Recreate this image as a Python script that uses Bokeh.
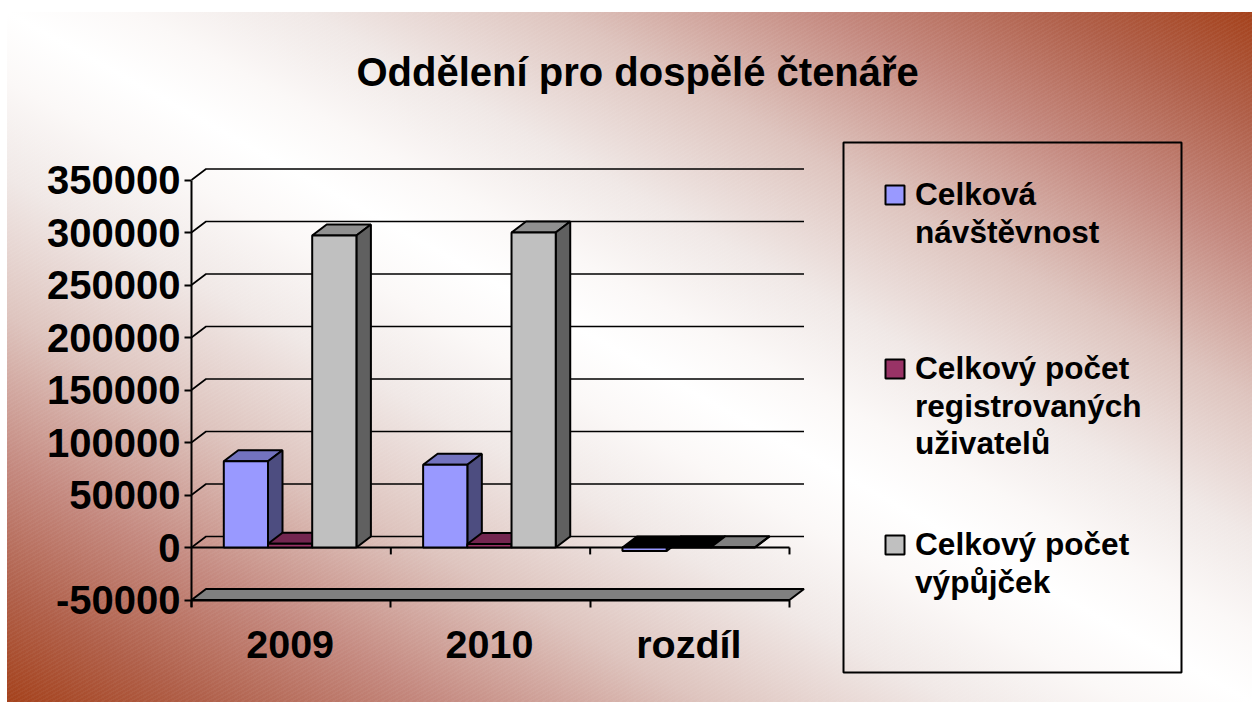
from bokeh.plotting import figure
from bokeh.core.properties import value
from bokeh.models import LinearAxis, FixedTicker, Title, PrintfTickFormatter
from bokeh.embed import file_html
from bokeh.resources import INLINE

categories = ["2009", "2010", "rozdíl"]
title_text = "Oddělení pro dospělé čtenáře"
y_ticks = [-50000, 0, 50000, 100000, 150000, 200000, 250000, 300000, 350000]
navstevnost = [82200, 78800, -3400]
uzivatele = [3500, 3400, 200]
vypujcky = [297100, 300000, 300]
legend_lines = [["Celková", "návštěvnost"],
                ["Celkový počet", "registrovaných", "uživatelů"],
                ["Celkový počet", "výpůjček"]]

FRONT = ["#9999FF", "#993366", "#C0C0C0"]
SIDE = ["#4D4D80", "#4D1A33", "#606060"]
TOP = [["#7373BF", "#7373BF", "#000000"],
       ["#732650", "#732650", "#000000"],
       ["#909090", "#909090", "#808080"]]
series = [navstevnost, uzivatele, vypujcky]

# page-pixel layout of the plot
PX_X0, PX_XU = 191, 199.33     # x pixel of data 0, pixels per category
PX_Y0, PX_YU = 547, 0.00105    # y pixel of value 0, pixels per unit
W, H, FRAME_TOP = 1252, 702, 110


def dx(px):
    return (px - PX_X0) / PX_XU


def dy(py):
    return (PX_Y0 - py) / PX_YU


DX = 14.5 / PX_XU              # depth of the 3-D box, x units
DY = 11 / PX_YU                # depth of the 3-D box, y units
BW = 44.2 / PX_XU
GAP = 32.3 / PX_XU
LW = 2

page_bg = ("repeating-linear-gradient(150deg, rgba(255,255,255,.04) 0 1.5px, rgba(255,255,255,0) 1.5px 3.5px), "
           "linear-gradient(to top right, #A5421C 0%, #B0604A 8%, #C4887E 17%, #DEC4BE 28%, #F0E8E6 38%, "
           "#FBF8F7 45%, #FFFFFF 50%, #FBF8F7 55%, #F0E8E6 62%, #DEC4BE 72%, #C4887E 83%, #B0604A 92%, #A5421C 100%)")

p = figure(width=W, height=H, x_range=(dx(0), dx(W)), y_range=(dy(H), dy(FRAME_TOP)),
           output_backend="svg", toolbar_location=None, x_axis_location=None, y_axis_location=None,
           min_border_left=0, min_border_right=0, min_border_top=FRAME_TOP, min_border_bottom=0,
           styles={"background-image": page_bg, "background-repeat": "no-repeat",
                   "background-size": "1245px 690px", "background-position": "7px 12px"})
p.border_fill_alpha = 0
p.background_fill_alpha = 0
p.outline_line_color = None
p.grid.visible = False

t = Title(text=title_text, align="left", offset=356, standoff=34,
          text_font="Liberation Sans", text_font_size="40px", text_font_style="bold", text_color="black")
p.add_layout(t, "above")

# back-wall gridlines with their diagonal returns
gx, gy = [], []
for v in y_ticks[1:]:
    gx.append([0, DX, 3 + DX])
    gy.append([v, v + DY, v + DY])
p.multi_line(gx, gy, line_color="black", line_width=LW - 0.4)

# floor
p.patch([0, 3, 3 + DX, DX], [y_ticks[0], y_ticks[0], y_ticks[0] + DY, y_ticks[0] + DY],
        fill_color="#808080", line_color="black", line_width=LW)

# zero axis line
p.multi_line([[0, 3], [1, 1], [2, 2], [3, 3]],
             [[0, 0], [0, -6600], [0, -6600], [0, -6600]], line_color="black", line_width=LW)

for s, vals in enumerate(series):
    left = [c + GAP + s * BW for c in range(3)]
    right = [l + BW for l in left]
    top = [max(v, 0) for v in vals]
    bot = [min(v, 0) for v in vals]
    p.patches([[l, r, r + DX, l + DX] for l, r in zip(left, right)],
              [[y, y, y + DY, y + DY] for y in top],
              fill_color=TOP[s], line_color="black", line_width=LW)
    p.patches([[r, r + DX, r + DX, r] for r in right],
              [[b, b + DY, y + DY, y] for b, y in zip(bot, top)],
              fill_color=SIDE[s], line_color="black", line_width=LW)
    p.quad(left=left, right=right, bottom=bot, top=top,
           fill_color=FRONT[s], line_color="black", line_width=LW)

# axes, pinned at their data positions inside the full-page frame
ya = LinearAxis(ticker=FixedTicker(ticks=y_ticks), formatter=PrintfTickFormatter(format="%d"),
                bounds=(y_ticks[0], y_ticks[-1]), fixed_location=0)
ya.axis_line_width = LW
ya.major_tick_line_width = LW
ya.major_tick_out = 7
ya.major_tick_in = 0
ya.minor_tick_out = 0
ya.minor_tick_in = 0
ya.major_label_standoff = 4
ya.major_label_text_font = "Liberation Sans"
ya.major_label_text_font_size = "40px"
ya.major_label_text_font_style = "bold"
ya.major_label_text_color = "black"
p.add_layout(ya, "left")

label_ticks = [i + 0.495 for i in range(3)]
xa = LinearAxis(ticker=FixedTicker(ticks=label_ticks, minor_ticks=[0, 1, 2, 3]),
                major_label_overrides=dict(zip(label_ticks, categories)),
                bounds=(0, 3), fixed_location=y_ticks[0])
xa.axis_line_width = LW
xa.major_tick_out = 0
xa.major_tick_in = 0
xa.minor_tick_line_width = LW
xa.minor_tick_out = 7
xa.minor_tick_in = 0
xa.major_label_standoff = 15
xa.major_label_text_font = "Liberation Sans"
xa.major_label_text_font_size = "39.5px"
xa.major_label_text_font_style = "bold"
xa.major_label_text_color = "black"
p.add_layout(xa, "below")
# y-axis tail below the floor line
p.line([0, 0], [y_ticks[0], y_ticks[0] - 6600], line_color="black", line_width=LW)

# legend box, swatches and text
p.quad(left=[dx(843)], right=[dx(1181)], top=[dy(142)], bottom=[dy(672)],
       fill_alpha=0, line_color="black", line_width=LW)
for s, (sy, lines) in enumerate(zip([195, 369, 545], legend_lines)):
    p.quad(left=[dx(885)], right=[dx(904)], top=[dy(sy - 10)], bottom=[dy(sy + 9)],
           fill_color=FRONT[s], line_color="black", line_width=LW)
    p.text(x=[dx(914.5)] * len(lines), y=[dy(sy - 1.5 + i * 37.5) for i in range(len(lines))], text=lines,
           text_font=value("Liberation Sans"), text_font_size="31.6px", text_font_style="bold",
           text_color="black", text_baseline="middle", text_align="left")

open("out.html", "w").write(file_html(p, INLINE))
